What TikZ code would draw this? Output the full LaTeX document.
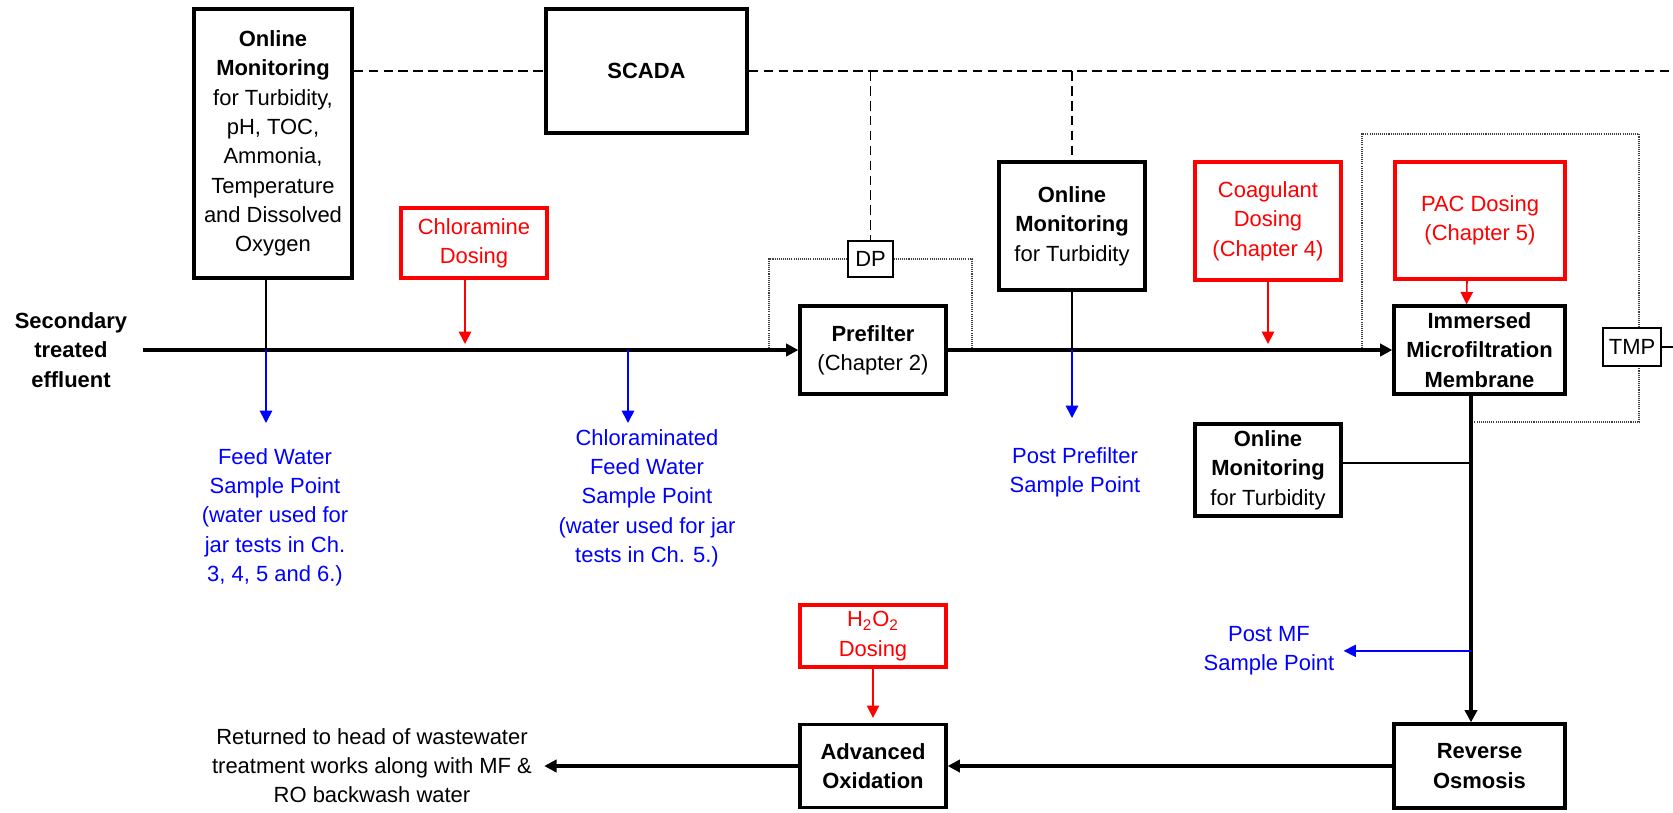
\documentclass[tikz,border=0pt]{standalone}
\usepackage{fontspec}
\setmainfont{Liberation Sans}
\usetikzlibrary{arrows.meta,positioning,calc}
\definecolor{DoseRed}{RGB}{255,0,0}
\definecolor{SampleBlue}{RGB}{0,0,255}
\tikzset{
  ubox/.style={draw,line width=1.9pt,inner sep=0pt,align=center,font=\bfseries},
  mbox/.style={draw,line width=1.9pt,inner sep=0pt,align=center},
  dbox/.style={draw=DoseRed,text=DoseRed,line width=1.9pt,inner sep=0pt,align=center},
  sbox/.style={draw,fill=white,line width=0.8pt,inner sep=0pt},
  stxt/.style={text=SampleBlue,align=center,inner sep=0pt,anchor=north},
  flow/.style={-{Triangle[length=7pt,width=7pt]},line width=1.9pt},
  feed/.style={-{Triangle[length=7pt,width=7pt]},DoseRed,line width=0.9pt},
  samp/.style={-{Triangle[length=7pt,width=7pt]},SampleBlue,line width=0.9pt},
  link/.style={line width=0.8pt},
  ctrl/.style={dash pattern=on 5.5pt off 3pt,line width=0.8pt},
  press/.style={black!75,dash pattern=on 0.6pt off 0.6pt,line width=0.6pt},
}
\begin{document}
\fontsize{12.5}{16.7}\selectfont
\begin{tikzpicture}[x=0.02cm,y=-0.02cm]
  \useasboundingbox (0,0) rectangle (1673,812);

  \node[mbox,minimum width=3.16cm,minimum height=5.38cm] (omall) at (273,143.5)
    {\textbf{Online}\\\textbf{Monitoring}\\for Turbidity,\\pH, TOC,\\Ammonia,\\Temperature\\and Dissolved\\Oxygen};
  \node[ubox,minimum width=4.02cm,minimum height=2.48cm] (scada) at (646.5,71) {SCADA};
  \node[dbox,minimum width=2.92cm,minimum height=1.4cm] (chlor) at (474,243) {Chloramine\\Dosing};
  \node[sbox,minimum width=0.9cm,minimum height=0.72cm] (dp) at (870.5,259) {DP};
  \node[mbox,minimum width=2.92cm,minimum height=1.76cm] (pref) at (873,350) {\textbf{Prefilter}\\(Chapter 2)};
  \node[mbox,minimum width=2.92cm,minimum height=2.56cm] (omturb) at (1072,226)
    {\textbf{Online}\\\textbf{Monitoring}\\for Turbidity};
  \node[dbox,minimum width=2.92cm,minimum height=2.36cm] (coag) at (1268,221) {Coagulant\\Dosing\\(Chapter 4)};
  \node[dbox,minimum width=3.4cm,minimum height=2.34cm] (pac) at (1480,220.5) {PAC Dosing\\(Chapter 5)};
  \node[ubox,minimum width=3.42cm,minimum height=1.76cm] (mf) at (1479.5,350) {Immersed\\Microfiltration\\Membrane};
  \node[mbox,minimum width=2.92cm,minimum height=1.84cm] (omfilt) at (1268,470)
    {\textbf{Online}\\\textbf{Monitoring}\\for Turbidity};
  \node[dbox,minimum width=2.92cm,minimum height=1.24cm] (hpdose) at (873,636) {H\textsubscript{2}O\textsubscript{2}\\Dosing};
  \node[ubox,minimum width=2.92cm,minimum height=1.66cm] (aox) at (873,766) {Advanced\\Oxidation};
  \node[ubox,minimum width=3.42cm,minimum height=1.68cm] (ro) at (1479.5,766) {Reverse\\Osmosis};

  \node[font=\bfseries,align=center,inner ysep=0pt,inner xsep=0.32cm] (sec) at (71,350) {Secondary\\treated\\effluent};
  \node[stxt] (fptxt) at (275,448) {Feed Water\\Sample Point\\(water used for\\jar tests in Ch.\\3, 4, 5 and 6.)};
  \node[stxt] (cftxt) at (647,429) {Chloraminated\\Feed Water\\Sample Point\\(water used for jar\\tests in Ch. 5.)};
  \node[stxt] (pptxt) at (1075,447) {Post Prefilter\\Sample Point};
  \node[stxt] (pmtxt) at (1269,626) {Post MF\\Sample Point};
  \node[align=center,inner ysep=0pt,inner xsep=0.24cm,anchor=north] (ret) at (372,728)
    {Returned to head of wastewater\\treatment works along with MF \&\\RO backwash water};

  \coordinate (fp) at (266,350);
  \coordinate (cp) at (628,350);
  \coordinate (dpl) at (769,350);
  \coordinate (dpr) at (972,350);
  \coordinate (tml) at (1362,350);
  \coordinate (tmc) at (1639,134);
  \coordinate (tmb) at (1471,422);
  \coordinate (mfout) at (1471,395);
  \coordinate (rend) at (1673,71);
  \coordinate (tend) at (1673,347);

  % pressure tappings
  \draw[press] (dp.west) -| (dpl);
  \draw[press] (dp.east) -| (dpr);
  \draw[press] (tml) |- (tmc) -- (tmc |- tmb) -- (tmb);
  \node[sbox,minimum width=1.16cm,minimum height=0.76cm] (tmp) at (1632,347) {TMP};
  \draw[link] (tmp.east) -- (tend);

  % SCADA links
  \draw[ctrl] (scada.west -| omall.east) -- (scada.west);
  \draw[ctrl] (scada.east) -- (rend);
  \draw[ctrl] (dp.north |- scada.east) -- (dp.north);
  \draw[ctrl] (omturb.north |- scada.east) -- (omturb.north);

  % process flow
  \draw[flow] (sec.east) -- (sec.east -| pref.west);
  \draw[flow] (pref.east) -- (mf.west);
  \draw[flow] (mfout) -- (mfout |- ro.north);
  \draw[flow] (ro.west) -- (aox.east);
  \draw[flow] (aox.west) -- (aox.west -| ret.east);

  % dosing
  \draw[feed,shorten >=0.12cm] ([xshift=-0.18cm]chlor.south) -- ([xshift=-0.18cm]chlor.south |- sec.east);
  \draw[feed,shorten >=0.12cm] (coag.south) -- (coag.south |- pref.east);
  \draw[feed] ([xshift=-0.26cm]pac.south) -- ([xshift=-0.26cm]mf.north);
  \draw[feed,shorten >=0.1cm] (hpdose.south) -- (aox.north);

  % monitoring and sample points
  \draw[link] (omall.south -| fp) -- (fp);
  \draw[samp,shorten >=0.5cm] (fp) -- (fp |- fptxt.north);
  \draw[samp,shorten >=0.12cm] (cp) -- (cp |- cftxt.north);
  \draw[link] (omturb.south) -- (omturb.south |- pref.east);
  \draw[samp,shorten >=0.58cm] (omturb.south |- pref.east) -- (omturb.south |- pptxt.north);
  \draw[link] ([yshift=0.14cm]omfilt.east) -- ([yshift=0.14cm]omfilt.east -| mfout);
  \draw[samp,shorten >=0.18cm] (pmtxt.east -| mfout) -- (pmtxt.east);
\end{tikzpicture}
\end{document}
